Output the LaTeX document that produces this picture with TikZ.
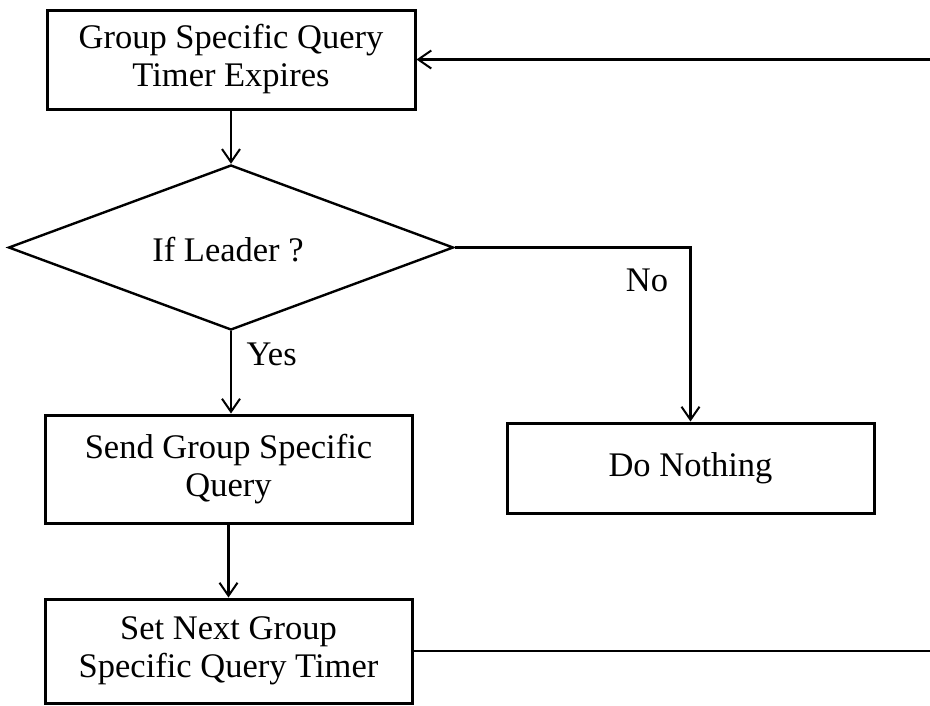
\documentclass[tikz,border=0pt]{standalone}
\usepackage{fontspec}
\setmainfont{Liberation Serif}
\usetikzlibrary{shapes.geometric,arrows.meta}

\begin{document}
\begin{tikzpicture}[x=1pt,y=-1pt,
  txt/.style={font=\fontsize{34.5}{38}\selectfont},
  procbox/.style={draw, rectangle, line width=3pt, inner sep=0pt, align=center, txt},
  decision/.style={draw, diamond, line width=2.4pt, inner sep=0pt, txt},
  flow/.style={line width=2.2pt, -{Straight Barb[length=13pt,width=18pt,line width=2pt]}},
  plain/.style={line width=2.2pt}
]
\useasboundingbox (0,0) rectangle (930,705);

% process boxes
\node[procbox, minimum width=368pt, minimum height=99pt] (expire) at (231,59.5)
  {Group Specific Query\\Timer Expires};
\node[decision, minimum width=445pt, minimum height=165pt] (leader) at (231,247.5) {};
\node[txt] (ask) at (228,250) {If Leader ?};
\node[procbox, minimum width=367pt, minimum height=108pt] (send) at (228.5,469)
  {Send Group Specific\\Query};
\node[procbox, minimum width=367pt, minimum height=90pt] (nothing) at (690.5,468)
  {Do Nothing};
\node[procbox, minimum width=367pt, minimum height=104pt] (settimer) at (228.5,651)
  {Set Next Group\\Specific Query Timer};

% branch labels
\node[txt, anchor=west] (yes) at (243,354) {Yes};
\node[txt] (no) at (647,280) {No};

% loop ends at the right margin
\coordinate (loopin) at (930,59.5);
\coordinate (loopout) at (930,651);

% connectors
\draw[flow] (expire.south) -- (expire.south |- leader.north);
\draw[flow] (leader.south) -- (leader.south |- send.north);
\draw[flow] (leader.east) -| (nothing.north);
\draw[flow] (send.south) -- (send.south |- settimer.north);
\draw[plain] (settimer.east) -- (loopout);
\draw[flow] (loopin) -- (expire.east);
\end{tikzpicture}
\end{document}
